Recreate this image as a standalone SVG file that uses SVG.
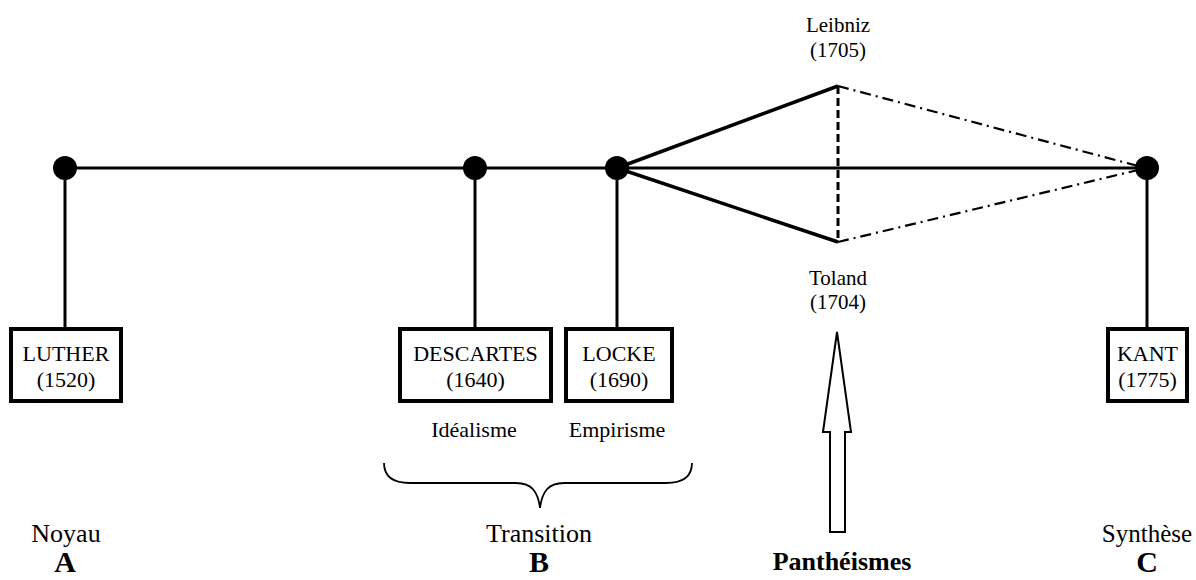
<svg xmlns="http://www.w3.org/2000/svg" width="1196" height="580" viewBox="0 0 1196 580">
<style>
text{font-family:"Liberation Serif","Times New Roman",serif;fill:#000;text-anchor:middle}
.box{fill:#fff;stroke:#000;stroke-width:4}
.ln{stroke:#000;stroke-width:3;fill:none}
.thick{stroke:#000;stroke-width:3.5;fill:none}
.dash{stroke:#000;stroke-width:3;stroke-dasharray:8 4;fill:none}
.dd{stroke:#000;stroke-width:2.2;stroke-dasharray:11 5 2 5;fill:none}
.dot{fill:#000}
.t{font-size:22px}
.s{font-size:21px}
.lab{font-size:26px}
.big{font-size:30px;font-weight:bold}
</style>
<g id="connectors">
<line class="ln" x1="65" y1="168" x2="1146" y2="168"/>
<line class="ln" x1="65" y1="168" x2="65" y2="329"/>
<line class="ln" x1="475" y1="168" x2="475" y2="329"/>
<line class="ln" x1="617" y1="168" x2="617" y2="329"/>
<line class="ln" x1="1147" y1="168" x2="1147" y2="329"/>
<line class="thick" x1="617" y1="168" x2="838" y2="86"/>
<line class="thick" x1="617" y1="168" x2="838" y2="242"/>
<line class="dash" x1="838" y1="86" x2="838" y2="242"/>
<line class="dd" x1="838" y1="86" x2="1138" y2="166"/>
<line class="dd" x1="838" y1="242" x2="1138" y2="170"/>
</g>
<g id="dots">
<circle class="dot" cx="65" cy="168" r="12"/>
<circle class="dot" cx="475" cy="168" r="12"/>
<circle class="dot" cx="617" cy="168" r="12"/>
<circle class="dot" cx="1147" cy="168" r="12"/>
</g>
<g id="luther">
<rect class="box" x="11" y="329" width="110" height="72"/>
<text class="t" x="66" y="361">LUTHER</text>
<text class="t" x="66" y="387">(1520)</text>
</g>
<g id="descartes">
<rect class="box" x="400" y="329" width="151" height="72"/>
<text class="t" x="475.5" y="361">DESCARTES</text>
<text class="t" x="475.5" y="387">(1640)</text>
<text class="t" x="474" y="437">Idéalisme</text>
</g>
<g id="locke">
<rect class="box" x="566" y="329" width="106" height="72"/>
<text class="t" x="619" y="361">LOCKE</text>
<text class="t" x="619" y="387">(1690)</text>
<text class="t" x="617" y="437">Empirisme</text>
</g>
<g id="kant">
<rect class="box" x="1108" y="329" width="79" height="72"/>
<text class="t" x="1147.5" y="361">KANT</text>
<text class="t" x="1147.5" y="387">(1775)</text>
</g>
<g id="leibniz">
<text class="s" x="838" y="32">Leibniz</text>
<text class="s" x="838" y="57">(1705)</text>
</g>
<g id="toland">
<text class="s" x="838" y="285">Toland</text>
<text class="s" x="838" y="309">(1704)</text>
</g>
<g id="brace">
<path class="ln" style="stroke-width:1.8" d="M384,463 C384,476 392,483 410,483 L516,483 C532,483 538,492 540,508 C542,492 548,483 564,483 L666,483 C684,483 692,476 692,463"/>
</g>
<g id="arrow">
<polygon points="837,332 851,432 845,432 845,532 830,532 830,432 823,432" fill="#fff" stroke="#000" stroke-width="2"/>
</g>
<g id="labels">
<text class="lab" x="66" y="542">Noyau</text>
<text class="big" x="65" y="572">A</text>
<text class="lab" x="539" y="542">Transition</text>
<text class="big" x="539" y="572">B</text>
<text class="lab" x="842" y="570" font-weight="bold">Panthéismes</text>
<text class="lab" x="1147" y="542" style="font-size:25px">Synthèse</text>
<text class="big" x="1147" y="572">C</text>
</g>
</svg>
